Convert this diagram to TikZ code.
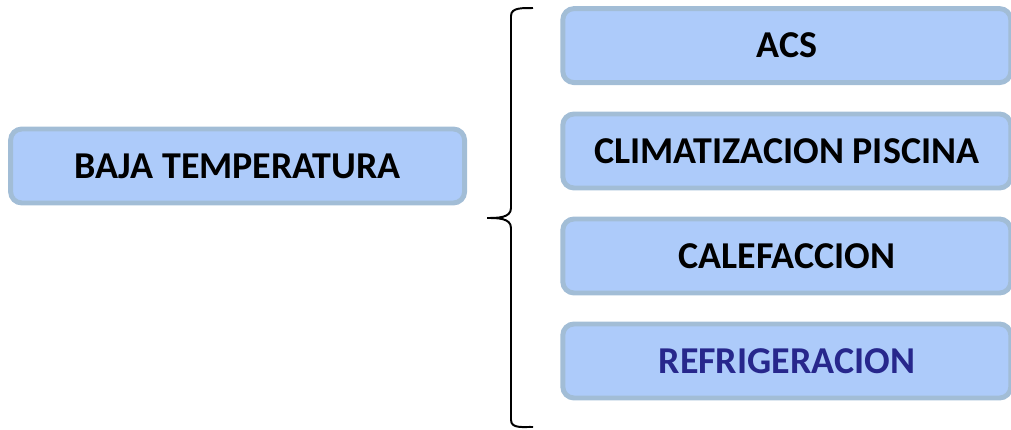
\documentclass[tikz,border=0pt]{standalone}
\usepackage{fontspec}
\setmainfont{Carlito}
\usepackage{tikz}
\definecolor{boxfill}{HTML}{ADCBFA}
\definecolor{boxline}{HTML}{A2BDD6}
\definecolor{darkblue}{HTML}{27278C}

\begin{document}
\begin{tikzpicture}[semithick,
    caja/.style={draw=boxline,fill=boxfill,line width=3.5pt,rounded corners=0.28cm,
      minimum height=1.85cm,align=center,font=\fontsize{27}{32}\selectfont\bfseries}]
          \useasboundingbox (0,0) rectangle (25.275,-10.75);
          \node[caja,minimum width=11.35cm] (baja) at (5.94,-4.15) {BAJA TEMPERATURA};
          \node[caja,minimum width=11.2cm] (acs) at (19.67,-1.14) {ACS};
          \node[caja,minimum width=11.2cm] (clima) at (19.67,-3.775) {CLIMATIZACION PISCINA};
          \node[caja,minimum width=11.2cm] (calef) at (19.67,-6.4) {CALEFACCION};
          \node[caja,minimum width=11.2cm,text=darkblue] (refri) at (19.67,-9.025) {REFRIGERACION};
          % llave
          \coordinate (arriba) at (13.325,-0.2);
          \coordinate (abajo) at (13.325,-10.675);
          \coordinate (punta) at (12.175,-5.45);
          \draw[line width=1.4pt] (arriba) to[out=182,in=90] (12.775,-0.4)
            -- (12.775,-5.2) to[out=-90,in=0] (punta)
            to[out=0,in=90] (12.775,-5.7) -- (12.775,-10.5)
            to[out=-90,in=178] (abajo);
        \end{tikzpicture}
\end{document}
